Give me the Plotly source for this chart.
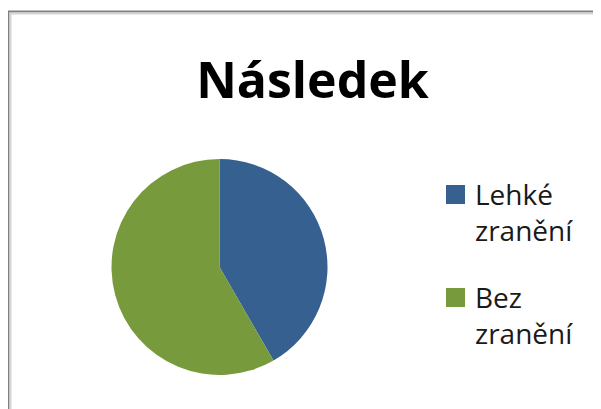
import plotly.graph_objects as go

W, H = 601, 409
PAGE_OFF = 8  # the browser body margin shifts the figure by 8px

title = "Následek"
labels = ["Lehké zranění", "Bez zranění"]
values = [5, 7]
colors = ["#35608f", "#779a3c"]


def px_x(x):
    return (x - PAGE_OFF) / W


def px_y(y):
    return 1 - (y - PAGE_OFF) / H


fig = go.Figure()

fig.add_trace(go.Pie(
    labels=labels,
    values=values,
    sort=False,
    direction="clockwise",
    rotation=0,
    marker=dict(colors=colors, line=dict(width=0)),
    textinfo="none",
    hoverinfo="label+value+percent",
    domain=dict(x=[px_x(111.5), px_x(327.5)], y=[px_y(375), px_y(159)]),
    showlegend=False,
))

# legend drawn by hand: big squares + two-line labels
shapes = []
annotations = []
legend_top = [185, 288]
for i, (lab, col) in enumerate(zip(labels, colors)):
    top = legend_top[i]
    shapes.append(dict(
        type="rect", xref="paper", yref="paper",
        x0=px_x(446), x1=px_x(465), y0=px_y(top + 19), y1=px_y(top),
        fillcolor=col, line=dict(width=0),
    ))
    annotations.append(dict(
        text=lab.replace(" ", "<br>"),
        xref="paper", yref="paper",
        x=px_x(473), y=px_y(top - 12),
        xanchor="left", yanchor="top", align="left",
        showarrow=False,
        font=dict(family="Open Sans", size=28, color="#1a1a1a"),
    ))

# chart frame (only top and left visible)
shapes.append(dict(
    type="path", xref="paper", yref="paper",
    path=f"M {px_x(8.5)} {px_y(430)} L {px_x(8.5)} {px_y(11.5)} L {px_x(640)} {px_y(11.5)}",
    line=dict(color="#808080", width=2),
))
shapes.append(dict(
    type="path", xref="paper", yref="paper",
    path=f"M {px_x(10.5)} {px_y(430)} L {px_x(10.5)} {px_y(13.5)} L {px_x(640)} {px_y(13.5)}",
    line=dict(color="#d4d4d4", width=2),
))

fig.update_layout(
    title=dict(
        text=f"<b>{title}</b>",
        x=px_x(312.5), xanchor="center",
        y=px_y(80), yanchor="middle", yref="container",
        font=dict(family="Open Sans", size=50, color="#000000"),
    ),
    shapes=shapes,
    annotations=annotations,
    width=W,
    height=H,
    margin=dict(l=0, r=0, t=0, b=0),
    paper_bgcolor="white",
    plot_bgcolor="white",
)

fig.write_html("out.html")
